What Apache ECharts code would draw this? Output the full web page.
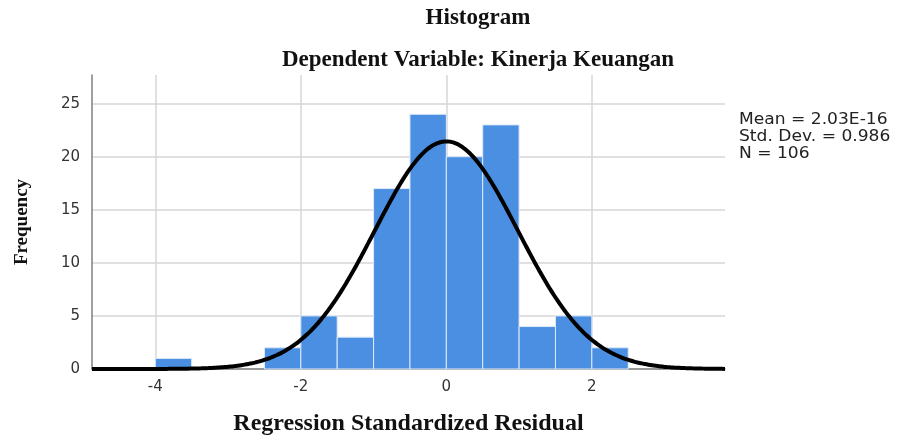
<!DOCTYPE html>
<html>
<head>
<meta charset="utf-8">
<title>Histogram</title>
<script src="https://cdn.jsdelivr.net/npm/echarts@6/dist/echarts.min.js"></script>
<style>
  html, body { margin: 0; padding: 0; background: #fff; }
  #histChart { width: 900px; height: 446px; }
</style>
</head>
<body>
<div id="histChart"></div>
<script>
// bins of the standardized residual (width 0.5) and their counts
const binStarts = [-4, -3.5, -3, -2.5, -2, -1.5, -1, -0.5, 0, 0.5, 1, 1.5, 2]
const frequencies = [1, 0, 0, 2, 5, 3, 17, 24, 20, 23, 4, 5, 2]
const binWidth = 0.5

// statistics printed next to the plot, also used for the normal curve
const mean = 2.03e-16
const stdDev = 0.986
const n = 106
const statLabels = ['Mean = 2.03E-16', 'Std. Dev. = 0.986', 'N = 106']

const xMin = -4.87
const xMax = 3.83
const yMax = 27.7

const barData = binStarts.map((s, i) => [s, s + binWidth, frequencies[i]])

// fitted normal curve (count scale = n * binWidth * pdf)
const curveData = []
for (let x = xMin; x <= xMax + 1e-9; x += 0.05) {
  const z = (x - mean) / stdDev
  curveData.push([x, n * binWidth * Math.exp(-0.5 * z * z) / (stdDev * Math.sqrt(2 * Math.PI))])
}

const gridColor = '#d6d6d6'
const clear = 'rgba(0,0,0,0)'

// stats box, one text element per line
const statTexts = statLabels.map((t, i) => ({
  type: 'text',
  x: 739,
  y: 113 + i * 16.7,
  scaleX: 1.14,
  style: { text: t, font: '15px "DejaVu Sans"', fill: '#222', align: 'left', verticalAlign: 'top' }
}))

const chart = echarts.init(document.getElementById('histChart'))
chart.setOption({
  animation: false,
  grid: { left: 92, right: 175, top: 75, bottom: 77 },
  graphic: [
    {
      type: 'text', x: 478, y: 18,
      style: { text: 'Histogram', font: 'bold 23px "Liberation Serif"', fill: '#111', align: 'center', verticalAlign: 'middle' }
    },
    {
      type: 'text', x: 478, y: 60,
      style: { text: 'Dependent Variable: Kinerja Keuangan', font: 'bold 23px "Liberation Serif"', fill: '#111', align: 'center', verticalAlign: 'middle' }
    }
  ].concat(statTexts),
  xAxis: {
    type: 'value',
    min: xMin,
    max: xMax,
    name: 'Regression Standardized Residual',
    nameLocation: 'middle',
    nameGap: 43,
    nameTextStyle: { fontFamily: 'Liberation Serif', fontWeight: 'bold', fontSize: 24, color: '#111' },
    axisLine: { onZero: false, lineStyle: { color: '#7f7f7f', width: 1.5 } },
    axisTick: { show: false },
    axisLabel: {
      showMinLabel: false,
      showMaxLabel: false,
      margin: 11,
      fontFamily: 'DejaVu Sans',
      fontSize: 15,
      color: '#333'
    },
    splitLine: { show: true, lineStyle: { color: [clear, gridColor, gridColor, gridColor, gridColor, clear], width: 1.5 } }
  },
  yAxis: {
    type: 'value',
    min: 0,
    max: yMax,
    name: 'Frequency',
    nameLocation: 'middle',
    nameRotate: 90,
    nameGap: 60,
    nameTextStyle: { fontFamily: 'Liberation Serif', fontWeight: 'bold', fontSize: 19, color: '#111' },
    axisLine: { show: true, onZero: false, lineStyle: { color: '#7f7f7f', width: 1.5 } },
    axisTick: { show: false },
    axisLabel: {
      showMaxLabel: false,
      margin: 12,
      fontFamily: 'DejaVu Sans',
      fontSize: 15,
      color: '#333'
    },
    splitLine: { show: true, lineStyle: { color: [gridColor, gridColor, gridColor, gridColor, gridColor, gridColor, clear], width: 1.5 } }
  },
  series: [
    {
      type: 'custom',
      z: 2,
      data: barData,
      encode: { x: [0, 1], y: 2 },
      renderItem(params, api) {
        const h = api.value(2)
        if (!h) return null
        const p0 = api.coord([api.value(0), h])
        const p1 = api.coord([api.value(1), 0])
        return {
          type: 'rect',
          shape: { x: p0[0], y: p0[1], width: p1[0] - p0[0], height: p1[1] - p0[1] },
          style: { fill: '#4a8fe1', stroke: '#dfeafa', lineWidth: 1 }
        }
      }
    },
    {
      type: 'line',
      z: 3,
      data: curveData,
      smooth: true,
      showSymbol: false,
      lineStyle: { color: '#000', width: 4 }
    }
  ]
})
</script>
</body>
</html>
